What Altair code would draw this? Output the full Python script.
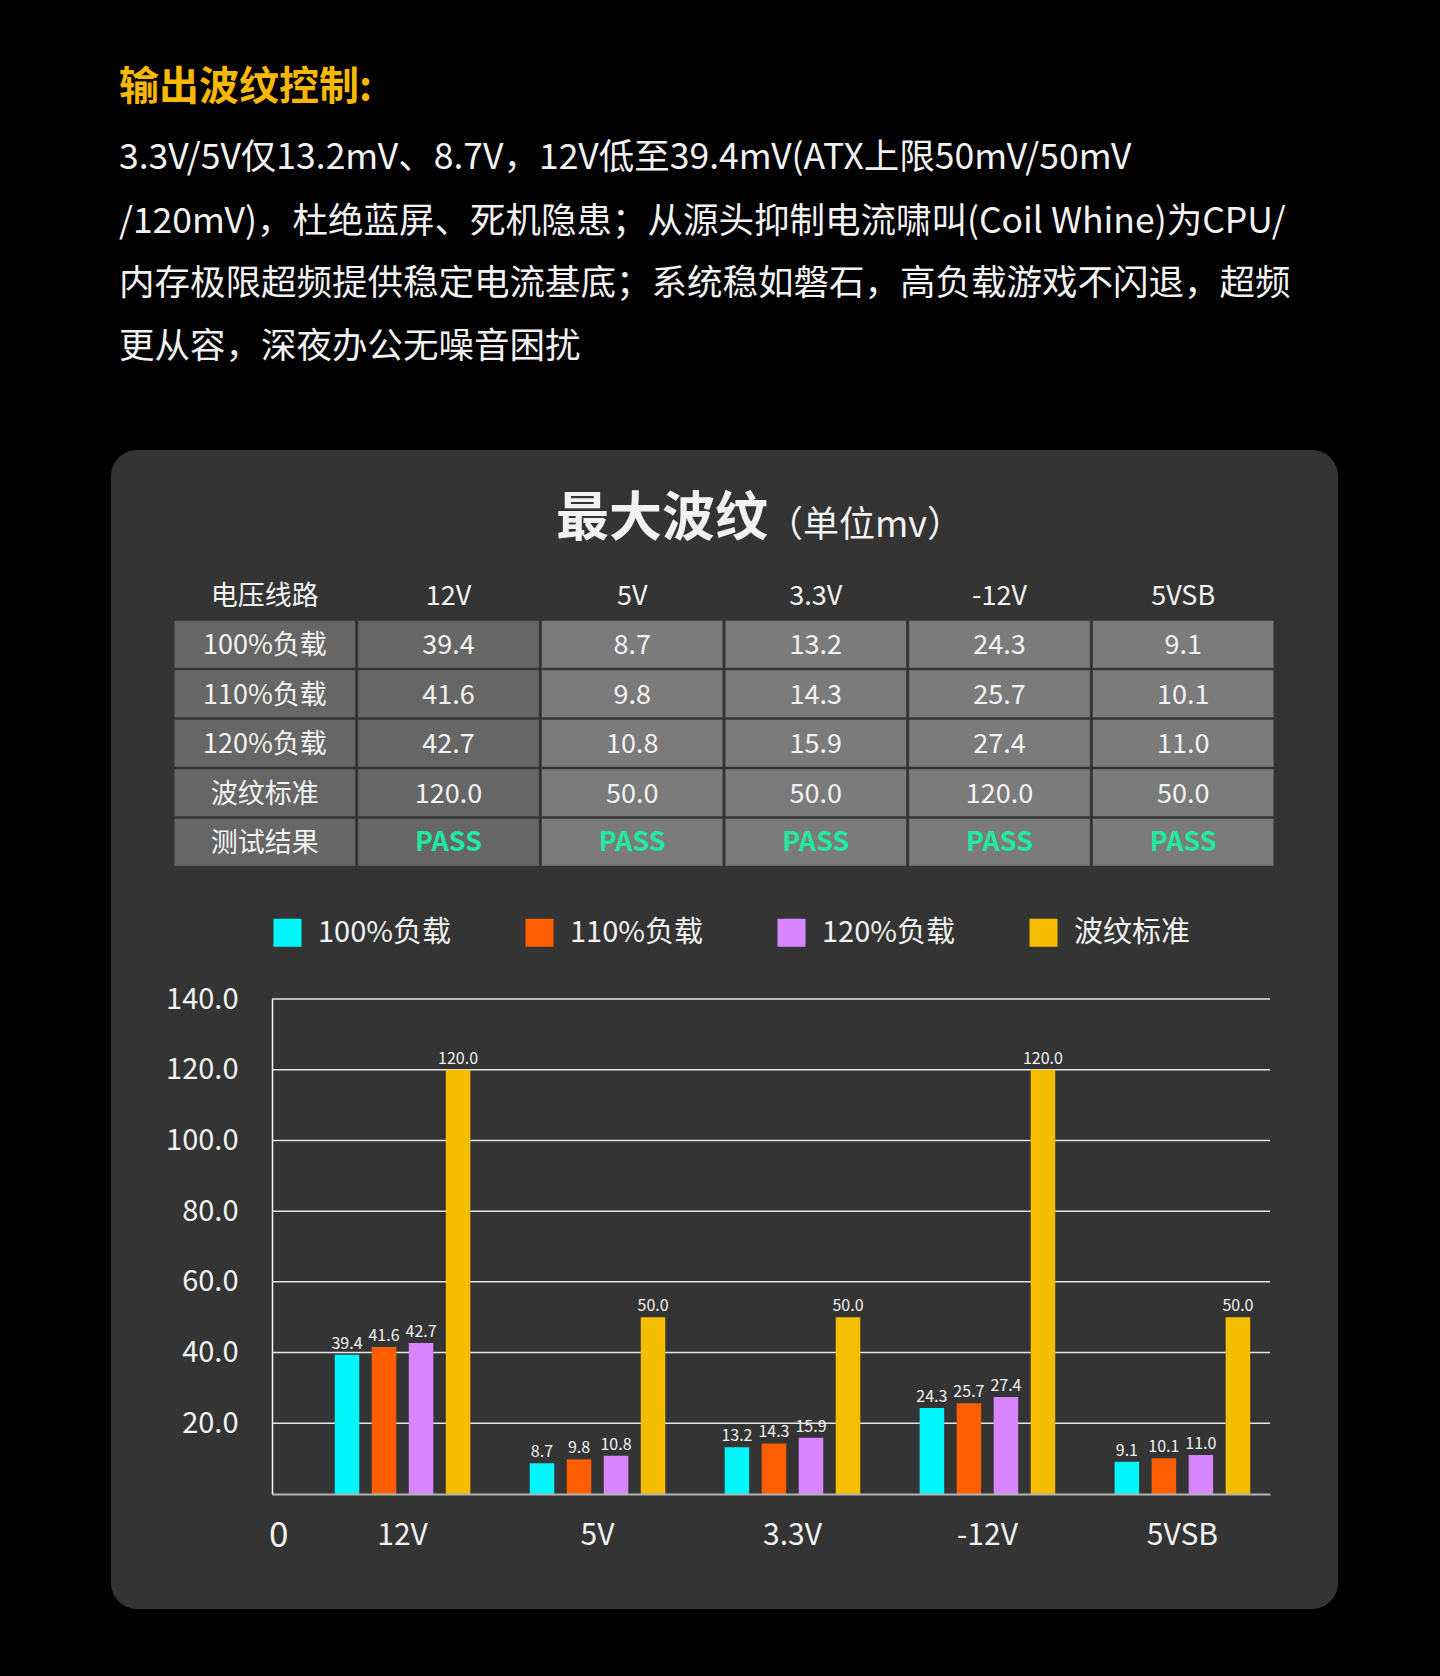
import altair as alt
import pandas as pd

FONT = "Noto Sans CJK SC"

# ---------------- copy ----------------
heading = "输出波纹控制:"
paragraph = [
    "3.3V/5V仅13.2mV、8.7V，12V低至39.4mV(ATX上限50mV/50mV",
    "/120mV)，杜绝蓝屏、死机隐患；从源头抑制电流啸叫(Coil Whine)为CPU/",
    "内存极限超频提供稳定电流基底；系统稳如磐石，高负载游戏不闪退，超频",
    "更从容，深夜办公无噪音困扰",
]
chart_title = "最大波纹"
chart_unit = "（单位mv）"

# ---------------- data ----------------
lines = ["12V", "5V", "3.3V", "-12V", "5VSB"]
series = ["100%负载", "110%负载", "120%负载", "波纹标准"]
load_100 = [39.4, 8.7, 13.2, 24.3, 9.1]
load_110 = [41.6, 9.8, 14.3, 25.7, 10.1]
load_120 = [42.7, 10.8, 15.9, 27.4, 11.0]
ripple_limit = [120.0, 50.0, 50.0, 120.0, 50.0]
test_result = ["PASS", "PASS", "PASS", "PASS", "PASS"]
table_corner = "电压线路"
result_label = "测试结果"
y_ticks = [0, 20, 40, 60, 80, 100, 120, 140]

# ---------------- styles ----------------
BG = "#000000"
PANEL = "#343434"
TEXT = "#f2f2f2"
GOLD = "#f6b800"
PASS_GREEN = "#1fe9a2"
CELL_DARK = "#666666"
CELL_LIGHT = "#7b7b7b"
GRID = "#e6e6e6"
BAR_COLORS = ["#00f6fa", "#ff5e00", "#d886ff", "#f5be00"]

W, H = 998, 495  # plot area

# ---------------- tables built from the arrays ----------------
value_rows = [load_100, load_110, load_120, ripple_limit]
bars_df = pd.DataFrame(
    [
        {"line": ln, "series": s, "value": vals[i]}
        for s, vals in zip(series, value_rows)
        for i, ln in enumerate(lines)
    ]
)

col_keys = [table_corner] + lines
row_keys = ["header"] + series + [result_label]

cells = []
for ci, c in enumerate(col_keys):
    cells.append({"row": "header", "col": c, "ci": ci, "text": c})
for s, vals in zip(series, value_rows):
    cells.append({"row": s, "col": table_corner, "ci": 0, "text": s})
    for i, ln in enumerate(lines):
        cells.append({"row": s, "col": ln, "ci": i + 1, "text": f"{vals[i]:.1f}"})
cells.append({"row": result_label, "col": table_corner, "ci": 0, "text": result_label})
for i, ln in enumerate(lines):
    cells.append({"row": result_label, "col": ln, "ci": i + 1, "text": test_result[i]})
cells_df = pd.DataFrame(cells)

grid_df = pd.DataFrame({"value": y_ticks[1:]})

one = alt.Data(values=[{}])

# ---------------- decoration & copy ----------------
panel = alt.Chart(one).mark_rect(color=PANEL, cornerRadius=26).encode(
    x=alt.value(-161), x2=alt.value(1066), y=alt.value(-549), y2=alt.value(610)
)

head_layer = alt.Chart(one).mark_text(
    text=heading, font=FONT, fontSize=40, fontWeight="bold", color=GOLD,
    align="left", baseline="middle",
).encode(x=alt.value(-153), y=alt.value(-911))

para_y = [-841, -777, -715, -652]
para_layers = [
    alt.Chart(one).mark_text(
        text=t, font=FONT, fontSize=35.5, color=TEXT, align="left", baseline="middle"
    ).encode(x=alt.value(-153), y=alt.value(py))
    for t, py in zip(paragraph, para_y)
]

title_layer = alt.Chart(one).mark_text(
    text=chart_title, font=FONT, fontSize=53, fontWeight="bold", color=TEXT,
    align="left", baseline="middle",
).encode(x=alt.value(284), y=alt.value(-479))

unit_layer = alt.Chart(one).mark_text(
    text=chart_unit, font=FONT, fontSize=36, color=TEXT,
    align="left", baseline="middle",
).encode(x=alt.value(495), y=alt.value(-473))

# ---------------- spec table ----------------
tx = alt.X(
    "col:N",
    scale=alt.Scale(domain=col_keys, range=[-99, 1003], paddingInner=0.016, paddingOuter=0.008),
    axis=None,
)
ty = alt.Y(
    "row:N",
    scale=alt.Scale(domain=row_keys, range=[-429, -132], paddingInner=0.05, paddingOuter=0.025),
    axis=None,
)

table_cells = (
    alt.Chart(cells_df)
    .transform_filter("datum.row !== 'header'")
    .mark_rect()
    .encode(
        x=tx,
        y=ty,
        color=alt.condition("datum.ci < 2", alt.value(CELL_DARK), alt.value(CELL_LIGHT)),
    )
)

table_text = (
    alt.Chart(cells_df)
    .transform_filter(f"datum.row !== '{result_label}' || datum.ci === 0")
    .mark_text(font=FONT, fontSize=27, color=TEXT, baseline="middle", dy=2)
    .encode(x=tx, y=ty, text="text:N")
)

table_pass = (
    alt.Chart(cells_df)
    .transform_filter(f"datum.row === '{result_label}' && datum.ci > 0")
    .mark_text(font=FONT, fontSize=27, fontWeight="bold", color=PASS_GREEN, baseline="middle", dy=1)
    .encode(x=tx, y=ty, text="text:N")
)

# ---------------- bar chart ----------------
zero = "datum.value === 0"
y_axis = alt.Axis(
    orient="left",
    values=y_ticks,
    labelExpr="datum.value === 0 ? '0' : format(datum.value, '.1f')",
    grid=False,
    ticks=False,
    tickSize=0,
    domain=True,
    domainColor=TEXT,
    domainWidth=1.5,
    labelColor=TEXT,
    labelFont=FONT,
    labelFontSize={"condition": {"test": zero, "value": 35}, "value": 29},
    labelPadding={"condition": {"test": zero, "value": -16}, "value": 34},
    labelOffset={"condition": {"test": zero, "value": 41}, "value": 0},
    labelOverlap=False,
    title=None,
    zindex=1,
)
x_axis = alt.Axis(
    orient="bottom",
    title=None,
    ticks=False,
    tickSize=0,
    domain=True,
    domainColor="#b4b4b4",
    domainWidth=2,
    labelColor=TEXT,
    labelFont=FONT,
    labelFontSize=30,
    labelPadding=41,
    labelBaseline="middle",
    labelAngle=0,
    zindex=1,
)

bx = alt.X(
    "line:N",
    scale=alt.Scale(domain=lines, paddingInner=0.3046, paddingOuter=0.2118, align=0.76),
    axis=x_axis,
)
bxo = alt.XOffset("series:N", scale=alt.Scale(domain=series, paddingInner=0.338, paddingOuter=0))
by = alt.Y("value:Q", scale=alt.Scale(domain=[0, 140], nice=False), axis=y_axis)

grid = alt.Chart(grid_df).mark_rule(color=GRID, strokeWidth=1.5).encode(
    y=by, x=alt.value(0), x2=alt.value("width")
)

bars = alt.Chart(bars_df).mark_bar().encode(
    x=bx,
    xOffset=bxo,
    y=by,
    color=alt.Color(
        "series:N",
        scale=alt.Scale(domain=series, range=BAR_COLORS),
        legend=alt.Legend(
            orient="none",
            legendX=1,
            legendY=-81,
            direction="horizontal",
            title=None,
            symbolType="square",
            symbolSize=784,
            symbolStrokeWidth=0,
            symbolOpacity=1,
            labelFont=FONT,
            labelFontSize=29,
            labelColor=TEXT,
            labelOffset=16,
            labelLimit=400,
            columnPadding=74,
            padding=0,
        ),
    ),
)

bar_labels = alt.Chart(bars_df).mark_text(
    font=FONT, fontSize=16, color=TEXT, baseline="bottom", dy=-3
).encode(x=bx, xOffset=bxo, y=by, text=alt.Text("value:Q", format=".1f"))

plot = alt.layer(grid, bars, bar_labels)

chart = (
    alt.layer(
        panel, head_layer, *para_layers, title_layer, unit_layer,
        table_cells, table_text, table_pass, plot,
    )
    .resolve_scale(x="independent", y="independent", color="independent")
    .properties(
        width=W,
        height=H,
        padding={"left": 272, "top": 999, "right": 170, "bottom": 182},
        autosize=alt.AutoSizeParams(type="none"),
        background=BG,
    )
    .configure_view(stroke=None)
    .configure(font=FONT)
)

chart.save("out.html", embed_options={"renderer": "svg", "actions": False})
